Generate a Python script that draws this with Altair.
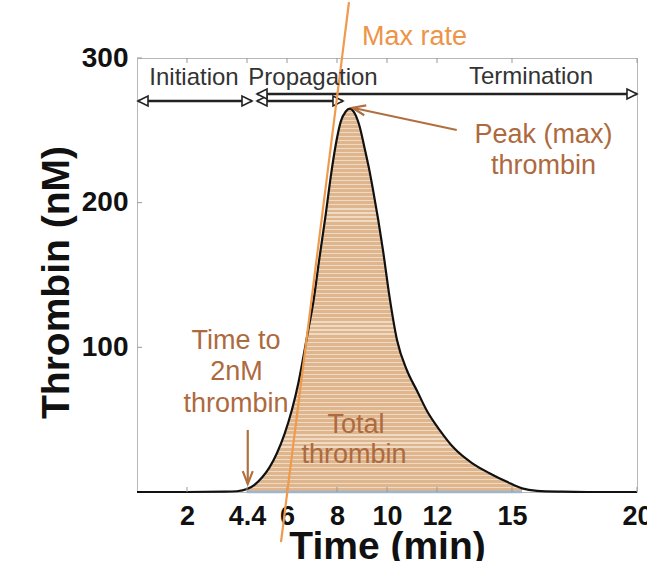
import altair as alt
import pandas as pd

# ---- thrombin generation curve ----
time_min = [0, 2, 3.5, 4.0, 4.4, 4.7, 5.0, 5.3, 5.6, 5.9, 6.2, 6.45, 6.65, 6.85, 7.05,
            7.3, 7.55, 7.75, 7.95, 8.15, 8.35, 8.52, 8.7, 8.9, 9.1, 9.3, 9.45, 9.65,
            9.84, 10.1, 10.4, 10.8, 11.2, 11.6, 12.1, 12.7, 13.4, 14.1, 14.8, 15.4,
            16.0, 17.0, 18.0, 20.0]
thrombin_nM = [0, 0, 0.2, 0.5, 2, 5, 10, 17, 27, 40, 57, 75, 93, 112, 131,
               162, 192, 218, 240, 256, 263, 265, 262, 253, 238, 222, 208, 188,
               167, 135, 105, 84, 70, 56, 43, 30, 20, 13, 7, 2.5,
               0.8, 0.2, 0, 0]

# shaded "total thrombin" window
fill_start, fill_end = 4.4, 15.4

# max-rate tangent line (end points)
max_rate_t = [5.76, 8.48]
max_rate_nM = [-34.6, 338.7]

# phase arrows
phase_names = ["Initiation", "Propagation", "Termination"]
phase_start = [0.04, 4.8, 4.8]
phase_end = [4.6, 8.24, 20.0]
phase_level = [270.3, 270.3, 275.1]

# axis ticks
x_ticks = [2, 4.4, 6, 8, 10, 12, 15, 20]
y_ticks = [100, 200, 300]

# annotation texts
ann_text = ["Max rate", "Initiation", "Propagation", "Termination",
            "Peak (max)", "thrombin", "Time to", "2nM", "thrombin", "Total", "thrombin"]
ann_t = [11.1, 2.28, 7.04, 15.76, 16.26, 16.26, 3.96, 3.98, 3.96, 8.76, 8.68]
ann_c = [309.0, 281.3, 281.3, 282.0, 241.2, 219.8, 98.8, 77.4, 55.3, 40.8, 20.0]
ann_color = ["#EC9448", "#333333", "#333333", "#333333", "#AD6A3E", "#AD6A3E",
             "#AD6A3E", "#AD6A3E", "#AD6A3E", "#AD6A3E", "#AD6A3E"]
ann_size = [27, 24, 24, 24, 27, 27, 27, 27, 27, 27, 27]

# pointer arrows (tail -> tip)
ptr_t1 = [12.79, 4.43]
ptr_c1 = [250.2, 42.9]
ptr_t2 = [8.62, 4.43]
ptr_c2 = [265.6, 5.5]
ptr_angle = [101.5, 0]

curve = pd.DataFrame({"t": time_min, "c": thrombin_nM})
rate = pd.DataFrame({"t": max_rate_t, "c": max_rate_nM})
phases = pd.DataFrame({"name": phase_names, "t": phase_start, "t2": phase_end, "c": phase_level})
heads_r = pd.DataFrame({"t": phase_end, "c": phase_level})
heads_l = pd.DataFrame({"t": phase_start, "c": phase_level})
ann = pd.DataFrame({"label": ann_text, "t": ann_t, "c": ann_c, "col": ann_color, "fs": ann_size})
ptr = pd.DataFrame({"t": ptr_t1, "c": ptr_c1, "t2": ptr_t2, "c2": ptr_c2, "ang": ptr_angle})
base = pd.DataFrame({"t": [fill_start], "t2": [fill_end], "c": [0]})
xt = pd.DataFrame({"t": x_ticks})
yt = pd.DataFrame({"c": y_ticks})

# striped tan fill (style only)
n_stripes = 95
stops = []
for i in range(n_stripes):
    a = i / n_stripes
    b = (i + 0.72) / n_stripes
    c = (i + 1) / n_stripes
    stops += [alt.GradientStop(color="#DEB58D", offset=a),
              alt.GradientStop(color="#DEB58D", offset=b),
              alt.GradientStop(color="#EFDAC4", offset=b),
              alt.GradientStop(color="#EFDAC4", offset=c)]
stripe_fill = alt.LinearGradient(gradient="linear", stops=stops, x1=0, x2=0, y1=0, y2=1)

xscale = alt.Scale(domain=[0, 20], nice=False, zero=False)
yscale = alt.Scale(domain=[0, 300], nice=False, zero=False)

X = alt.X("t:Q", scale=xscale,
          axis=alt.Axis(values=x_ticks, format="~g", title="Time (min)",
                        labelFontSize=27, labelPadding=11, titleFontSize=39,
                        titleX=250, titleY=66, titleBaseline="alphabetic",
                        titleAnchor="middle", labelFlush=False, labelOverlap=False))
Y = alt.Y("c:Q", scale=yscale,
          axis=alt.Axis(values=y_ticks, format="d", title="Thrombin (nM)",
                        labelFontSize=28, labelPadding=9, labelBaseline="middle",
                        titleFontSize=39, titleX=-69, titleY=224, titleAngle=270,
                        titleBaseline="alphabetic", titleAlign="center",
                        labelFlush=False, labelOverlap=False))

fill = alt.Chart(curve).transform_filter(
    f"datum.t >= {fill_start} && datum.t <= {fill_end}"
).mark_area(color=stripe_fill, interpolate="monotone", opacity=1).encode(x=X, y=Y)

baseline = alt.Chart(base).mark_rule(color="#9DB6CD", strokeWidth=2.5).encode(
    x="t:Q", x2="t2:Q", y="c:Q")

line = alt.Chart(curve).mark_line(color="#111111", strokeWidth=2.2,
                                   interpolate="monotone").encode(x="t:Q", y="c:Q")

rate_line = alt.Chart(rate).mark_line(color="#F09A4C", strokeWidth=2.2,
                                       clip=False).encode(x="t:Q", y="c:Q")

tick_b = alt.Chart(xt).mark_rule(color="#999999", strokeWidth=1).encode(
    x="t:Q", y=alt.value(434), y2=alt.value(429))
tick_t = alt.Chart(xt).mark_rule(color="#999999", strokeWidth=1).encode(
    x="t:Q", y=alt.value(0), y2=alt.value(5))
tick_l = alt.Chart(yt).mark_rule(color="#999999", strokeWidth=1).encode(
    y="c:Q", x=alt.value(0), x2=alt.value(5))

phase_rules = alt.Chart(phases).mark_rule(color="#222222", strokeWidth=2.5).encode(
    x="t:Q", x2="t2:Q", y="c:Q")
head_r = alt.Chart(heads_r).mark_point(
    shape="M0,0L-2,-1L-2,1Z", size=100, filled=True, fill="white",
    stroke="#222222", strokeWidth=1.6, opacity=1).encode(x="t:Q", y="c:Q")
head_l = alt.Chart(heads_l).mark_point(
    shape="M0,0L2,-1L2,1Z", size=100, filled=True, fill="white",
    stroke="#222222", strokeWidth=1.6, opacity=1).encode(x="t:Q", y="c:Q")

ptr_lines = alt.Chart(ptr).mark_rule(color="#B0703F", strokeWidth=2.2).encode(
    x="t:Q", y="c:Q", x2="t2:Q", y2="c2:Q")
ptr_heads = alt.Chart(ptr).mark_point(
    shape="M-1,-2.6L0,0L1,-2.6", size=100, filled=False, stroke="#B0703F",
    strokeWidth=2.2, opacity=1).encode(
    x="t2:Q", y="c2:Q", angle=alt.Angle("ang:Q", scale=None))

texts = alt.Chart(ann).mark_text(font="Liberation Sans", align="center",
                                 baseline="alphabetic").encode(
    x="t:Q", y="c:Q", text="label:N",
    color=alt.Color("col:N", scale=None),
    size=alt.Size("fs:Q", scale=None))

chart = alt.layer(
    fill, baseline, line, tick_b, tick_t, tick_l, phase_rules, head_l, head_r,
    rate_line, ptr_lines, ptr_heads, texts
).properties(
    width=500, height=434, autosize="none",
    padding={"left": 137, "top": 58, "right": 10, "bottom": 69},
    background="white"
).configure_view(
    stroke="#b8b8b8", strokeWidth=1
).configure_axis(
    grid=False, domain=False, ticks=False,
    labelFont="Liberation Sans", labelFontWeight="bold", labelColor="#111111",
    titleFont="Liberation Sans", titleFontWeight="bold", titleColor="#111111"
)

chart.save("out.html", embed_options={"renderer": "svg", "actions": False})
